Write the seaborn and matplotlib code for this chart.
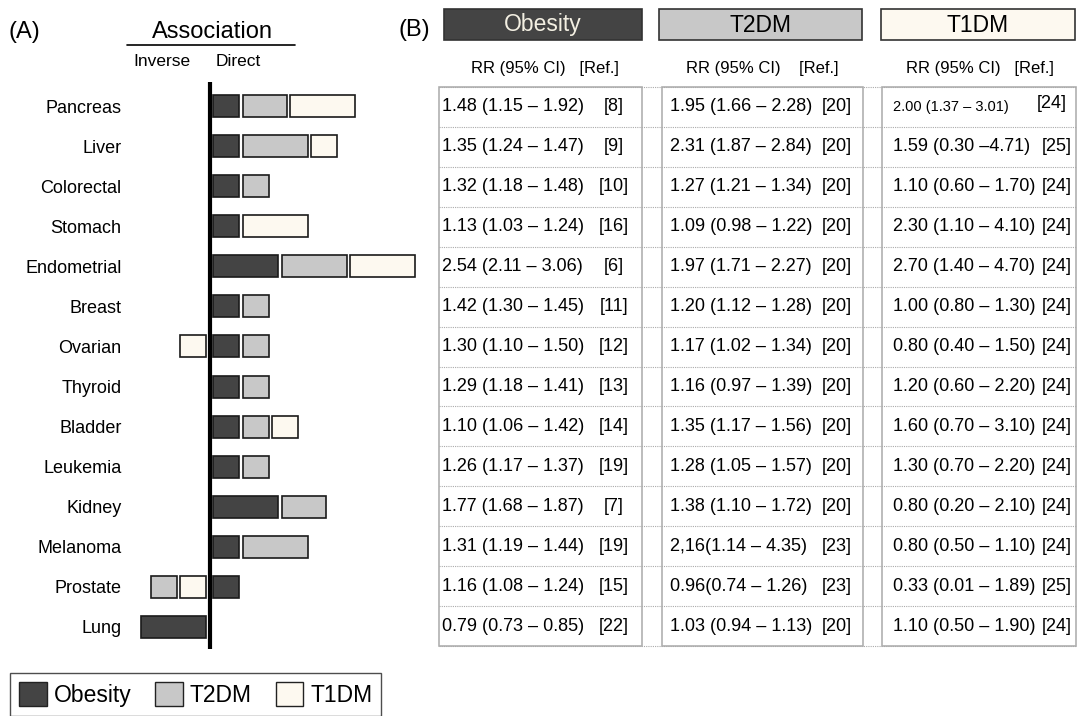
import numpy as np
import matplotlib
matplotlib.use('Agg')
import matplotlib.pyplot as plt
from matplotlib.patches import Patch, Rectangle
from matplotlib.lines import Line2D
import seaborn as sns

# Dati
cancers = ['Pancreas', 'Liver', 'Colorectal', 'Stomach', 'Endometrial', 'Breast', 'Ovarian',
           'Thyroid', 'Bladder', 'Leukemia', 'Kidney', 'Melanoma', 'Prostate', 'Lung']
groups = ['Obesity', 'T2DM', 'T1DM']

# magnitudine relativa dell'associazione (+ diretta, - inversa, 0 = nessuna barra)
obesity_mag = [1, 1, 1, 1, 2.5, 1, 1, 1, 1, 1, 2.5, 1, 1, -2.5]
t2dm_mag = [1.7, 2.5, 1, 0, 2.5, 1, 1, 1, 1, 1, 1.7, 2.5, -1, 0]
t1dm_mag = [2.5, 1, 0, 2.5, 2.5, 0, -1, 0, 1, 0, 0, 0, -1, 0]

obesity_rr = ['1.48 (1.15 – 1.92)', '1.35 (1.24 – 1.47)', '1.32 (1.18 – 1.48)', '1.13 (1.03 – 1.24)',
              '2.54 (2.11 – 3.06)', '1.42 (1.30 – 1.45)', '1.30 (1.10 – 1.50)', '1.29 (1.18 – 1.41)',
              '1.10 (1.06 – 1.42)', '1.26 (1.17 – 1.37)', '1.77 (1.68 – 1.87)', '1.31 (1.19 – 1.44)',
              '1.16 (1.08 – 1.24)', '0.79 (0.73 – 0.85)']
obesity_ref = ['[8]', '[9]', '[10]', '[16]', '[6]', '[11]', '[12]', '[13]', '[14]', '[19]', '[7]',
               '[19]', '[15]', '[22]']
t2dm_rr = ['1.95 (1.66 – 2.28)', '2.31 (1.87 – 2.84)', '1.27 (1.21 – 1.34)', '1.09 (0.98 – 1.22)',
           '1.97 (1.71 – 2.27)', '1.20 (1.12 – 1.28)', '1.17 (1.02 – 1.34)', '1.16 (0.97 – 1.39)',
           '1.35 (1.17 – 1.56)', '1.28 (1.05 – 1.57)', '1.38 (1.10 – 1.72)', '2,16(1.14 – 4.35)',
           '0.96(0.74 – 1.26)', '1.03 (0.94 – 1.13)']
t2dm_ref = ['[20]', '[20]', '[20]', '[20]', '[20]', '[20]', '[20]', '[20]', '[20]', '[20]', '[20]',
            '[23]', '[23]', '[20]']
t1dm_rr = ['2.00 (1.37 – 3.01)', '1.59 (0.30 –4.71)', '1.10 (0.60 – 1.70)', '2.30 (1.10 – 4.10)',
           '2.70 (1.40 – 4.70)', '1.00 (0.80 – 1.30)', '0.80 (0.40 – 1.50)', '1.20 (0.60 – 2.20)',
           '1.60 (0.70 – 3.10)', '1.30 (0.70 – 2.20)', '0.80 (0.20 – 2.10)', '0.80 (0.50 – 1.10)',
           '0.33 (0.01 – 1.89)', '1.10 (0.50 – 1.90)']
t1dm_ref = ['[24]', '[25]', '[24]', '[24]', '[24]', '[24]', '[24]', '[24]', '[24]', '[24]', '[24]',
            '[24]', '[25]', '[24]']

colori = {'Obesity': '#444444', 'T2DM': '#c8c8c8', 'T1DM': '#fdf9f0'}

sns.set_style('white')
plt.rcParams['font.family'] = ['Liberation Sans', 'DejaVu Sans']
plt.rcParams['text.color'] = 'black'
plt.rcParams['ytick.color'] = 'black'

W, H = 1083, 716
fig = plt.figure(figsize=(W / 100, H / 100), dpi=100)

###PANNELLO A
ax = fig.add_axes([130 / W, 1 - 649 / H, 300 / W, (649 - 82) / H])
gap = 0.13
mags = {'Obesity': obesity_mag, 'T2DM': t2dm_mag, 'T1DM': t1dm_mag}
for i in range(len(cancers)):
    # dirette: verso destra
    x = 0.12
    for g in groups:
        m = mags[g][i]
        if m > 0:
            ax.barh(i, m, left=x, height=0.55, color=colori[g], edgecolor='#1a1a1a', linewidth=1.2)
            x += m + gap
    # inverse: verso sinistra
    x = -0.15
    for g in reversed(groups):
        m = mags[g][i]
        if m < 0:
            ax.barh(i, m, left=x, height=0.55, color=colori[g], edgecolor='#1a1a1a', linewidth=1.2)
            x += m - gap

ax.axvline(0, color='black', lw=3)
ax.set_xlim(-80 / 26, 220 / 26)
ax.set_ylim(13.55, -0.6)
ax.set_yticks(range(len(cancers)))
ax.set_yticklabels(cancers, fontsize=13)
ax.tick_params(axis='y', length=0, pad=6)
ax.set_xticks([])
sns.despine(ax=ax, left=True, bottom=True)

###PANNELLO B (coordinate in pixel)
ov = fig.add_axes([0, 0, 1, 1], zorder=-1)
ov.set_xlim(0, W)
ov.set_ylim(H, 0)
ov.axis('off')

ov.text(8, 32, '(A)', fontsize=17, va='center', ha='left')
ov.text(398, 30, '(B)', fontsize=17, va='center', ha='left')
ov.text(212, 32, 'Association', fontsize=17, va='center', ha='center')
ov.add_line(Line2D([127, 295], [45, 45], color='black', lw=1.2))
ov.text(162, 62, 'Inverse', fontsize=12.5, va='center', ha='center')
ov.text(238, 62, 'Direct', fontsize=12.5, va='center', ha='center')

head_box = [(444, 642), (659, 862), (881, 1075)]
body_box = [(439, 642), (662, 863), (882, 1076)]
head_txt_col = ['#f3efe2', 'black', 'black']
sub_txt = ['RR (95% CI)   [Ref.]', 'RR (95% CI)    [Ref.]', 'RR (95% CI)   [Ref.]']
for k, g in enumerate(groups):
    x0, x1 = head_box[k]
    ov.add_patch(Rectangle((x0, 9), x1 - x0, 31, facecolor=colori[g], edgecolor='#333333', lw=1.2))
    ov.text((x0 + x1) / 2, 25, g, fontsize=16.5, color=head_txt_col[k], ha='center', va='center')
    ov.text((x0 + x1) / 2 + 2, 68, sub_txt[k], fontsize=12, ha='center', va='center')

top, rh = 87, 39.93
n = len(cancers)
for r in range(n + 1):
    y = top + r * rh
    ov.plot([439, 1076], [y, y], color='#aaaaaa', lw=0.8, ls=(0, (1, 1)))
for x0, x1 in body_box:
    ov.add_patch(Rectangle((x0, top), x1 - x0, n * rh, facecolor='none', edgecolor='#b0b0b0', lw=1.2))

for i in range(n):
    yc = top + (i + 0.5) * rh
    ov.text(442, yc, obesity_rr[i], fontsize=13, ha='left', va='center')
    ov.text(614, yc, obesity_ref[i], fontsize=13, ha='center', va='center')
    ov.text(670, yc, t2dm_rr[i], fontsize=13, ha='left', va='center')
    ov.text(852, yc, t2dm_ref[i], fontsize=13, ha='right', va='center')
    if i == 0:
        ov.text(893, yc, t1dm_rr[i], fontsize=10.5, ha='left', va='center')
        ov.text(1067, yc - 3, t1dm_ref[i], fontsize=13, ha='right', va='center')
    else:
        ov.text(893, yc, t1dm_rr[i], fontsize=13, ha='left', va='center')
        ov.text(1072, yc, t1dm_ref[i], fontsize=13, ha='right', va='center')

# Legenda
handles = [Patch(facecolor=colori[g], edgecolor='#222222', label=g) for g in groups]
leg = fig.legend(handles=handles, loc='upper left', bbox_to_anchor=(10 / W, 1 - 673 / H), ncol=3,
                 frameon=True, fancybox=False, edgecolor='#222222', fontsize=16.5,
                 handlelength=1.2, handleheight=1.2, handletextpad=0.3, columnspacing=1.05,
                 borderpad=0.4, borderaxespad=0)
leg.get_frame().set_linewidth(1.0)

fig.savefig('out.png', dpi=100)
